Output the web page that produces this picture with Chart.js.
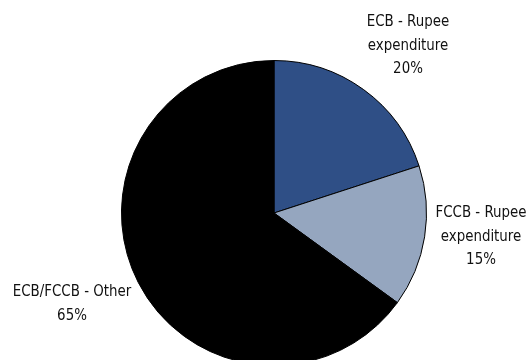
<!DOCTYPE html>
<html>
<head>
<meta charset="utf-8">
<script src="https://cdn.jsdelivr.net/npm/chart.js@4/dist/chart.umd.min.js"></script>
<style>
  html, body { margin: 0; padding: 0; background: #fff; overflow: hidden; }
  #wrap { width: 530px; height: 360px; overflow: hidden; }
</style>
</head>
<body>
<div id="wrap"><canvas id="pieChart" width="530" height="380"></canvas></div>
<script>
// data
var categories = ['ECB - Rupee expenditure', 'FCCB - Rupee expenditure', 'ECB/FCCB - Other'];
var shares = [20, 15, 65];
var sliceColors = ['#2f4f86', '#95a6bf', '#000000'];
// label text lines + where each block sits (centre x, first line y)
var labelLines = [
    ['ECB - Rupee', 'expenditure', '20%'],
    ['FCCB - Rupee', 'expenditure', '15%'],
    ['ECB/FCCB - Other', '65%']
];
var labelPos = [[408, 22], [481, 213], [72, 292]];

var sliceLabels = {
    id: 'sliceLabels',
    afterDraw: function(chart) {
        var ctx = chart.ctx;
        var sx = 0.93; // squeeze a bit, source font is condensed
        ctx.save();
        ctx.font = '16px "DejaVu Sans Condensed", sans-serif';
        ctx.fillStyle = '#111';
        ctx.textAlign = 'center';
        ctx.textBaseline = 'middle';
        ctx.scale(sx, 1);
        labelLines.forEach(function(lines, i) {
            lines.forEach(function(t, j) {
                ctx.fillText(t, labelPos[i][0] / sx, labelPos[i][1] + j * 23.5);
            });
        });
        ctx.restore();
    }
};

var pieChart = new Chart(document.getElementById('pieChart').getContext('2d'), {
    type: 'pie',
    data: {
        labels: categories,
        datasets: [{
            data: shares,
            backgroundColor: sliceColors,
            borderColor: '#000',
            borderWidth: 1,
            hoverOffset: 0
        }]
    },
    options: {
        responsive: false,
        animation: false,
        layout: { padding: { left: 121, right: 103, top: 60, bottom: 14 } },
        plugins: {
            legend: { display: false },
            tooltip: { enabled: false }
        }
    },
    plugins: [sliceLabels]
});
</script>
</body>
</html>
